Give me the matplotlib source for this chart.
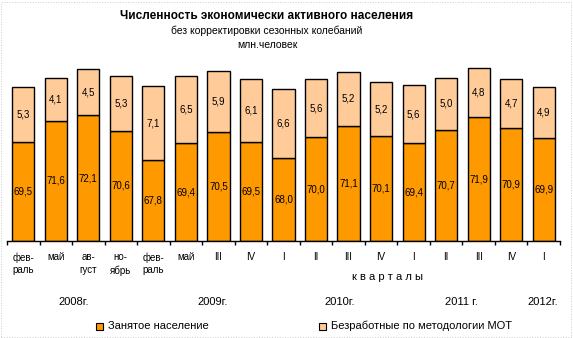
import matplotlib
matplotlib.use("Agg")
import matplotlib.pyplot as plt
from matplotlib.patches import Rectangle
import numpy as np

# ── data ─────────────────────────────────────────
periods = ["фев-\nраль", "май", "ав-\nгуст", "но-\nябрь", "фев-\nраль", "май",
           "III", "IV", "I", "II", "III", "IV", "I", "II", "III", "IV", "I"]
employed   = [69.5, 71.6, 72.1, 70.6, 67.8, 69.4, 70.5, 69.5, 68.0,
              70.0, 71.1, 70.1, 69.4, 70.7, 71.9, 70.9, 69.9]
unemployed = [5.3, 4.1, 4.5, 5.3, 7.1, 6.5, 5.9, 6.1, 6.6,
              5.6, 5.2, 5.2, 5.6, 5.0, 4.8, 4.7, 4.9]
years = ["2008г.", "2009г.", "2010г.", "2011 г.", "2012г."]
year_px = [74, 213, 340, 461, 543]      # label centres, pixels from left
series_names = ["Занятое население", "Безработные по методологии МОТ"]

c_emp = "#FF9900"
c_unemp = "#FFCC99"

plt.rcParams['font.family'] = ['Liberation Sans', 'DejaVu Sans']

W, H = 573, 338
fig = plt.figure(figsize=(W / 100, H / 100), dpi=100)

# axes placed in pixel terms: x 7..560, y 60..241 (from top)
ax = fig.add_axes([7 / W, 1 - 241 / H, (560 - 7) / W, (241 - 60) / H])
ymin = 60.0
ymax = ymin + (241 - 60) / 10.38

x = np.arange(len(periods))
ax.bar(x, [e - ymin for e in employed], bottom=ymin, width=0.68,
       color=c_emp, edgecolor="black", linewidth=1.0)
ax.bar(x, unemployed, bottom=employed, width=0.68,
       color=c_unemp, edgecolor="black", linewidth=1.0)

for i in range(len(x)):
    ax.text(x[i], (ymin + employed[i]) / 2, f"{employed[i]:.1f}".replace(".", ","),
            ha="center", va="center", fontsize=7)
    ax.text(x[i], employed[i] + unemployed[i] / 2, f"{unemployed[i]:.1f}".replace(".", ","),
            ha="center", va="center", fontsize=7)

ax.set_xlim(-0.5, len(x) - 0.5)
ax.set_ylim(ymin, ymax)
for s in ["top", "left", "right"]:
    ax.spines[s].set_visible(False)
ax.spines["bottom"].set_linewidth(1.0)
ax.set_yticks([])
ax.set_xticks(x)
ax.set_xticklabels(periods, fontsize=7, linespacing=1.35, va="top")
ax.tick_params(axis="x", which="major", length=0, pad=8)
ax.set_xticks(np.arange(-0.5, len(x)), minor=True)
ax.tick_params(axis="x", which="minor", length=3, width=1.0, direction="out")

# titles
fig.text(267 / W, 1 - 16 / H, "Численность экономически активного населения",
         ha="center", va="center", fontsize=8.5, fontweight="bold")
fig.text(267 / W, 1 - 31 / H, "без корректировки сезонных колебаний",
         ha="center", va="center", fontsize=7.5)
fig.text(267 / W, 1 - 45 / H, "млн.человек",
         ha="center", va="center", fontsize=7.5)

fig.text(387 / W, 1 - 277 / H, "к в а р т а л ы", ha="center", va="center", fontsize=8)
for yl, px in zip(years, year_px):
    fig.text(px / W, 1 - 302 / H, yl, ha="center", va="center", fontsize=8)

# legend
for (px, name, col) in [(96, series_names[0], c_emp), (319, series_names[1], c_unemp)]:
    fig.patches.append(Rectangle((px / W, 1 - 329.5 / H), 7 / W, 7 / H,
                                 transform=fig.transFigure, facecolor=col,
                                 edgecolor="black", linewidth=0.8))
    fig.text((px + 12) / W, 1 - 326 / H, name, ha="left", va="center", fontsize=8)

# dotted frame
fig.patches.append(Rectangle((1 / W, 1 / H), (W - 3) / W, (H - 3) / H,
                             transform=fig.transFigure, fill=False,
                             edgecolor="#cccccc", linewidth=0.7, linestyle=":"))

fig.savefig("out.png", dpi=100)
